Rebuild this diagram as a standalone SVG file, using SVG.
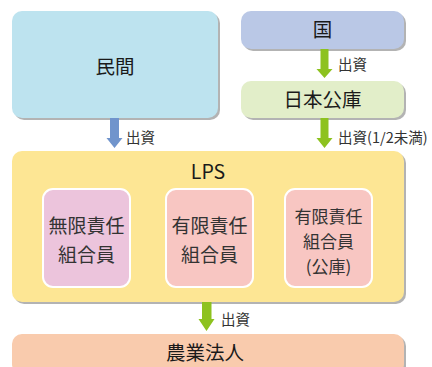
<svg xmlns="http://www.w3.org/2000/svg" width="432" height="367" viewBox="0 0 432 367">
<style>
.sh{fill:#9a9a9a;opacity:0.75}
.t{font-family:"Noto Sans CJK JP","Noto Sans",sans-serif;fill:#1a1a1a;text-anchor:middle}
.big{font-size:19.5px}
.in{font-size:19px;fill:#333}
.in3{font-size:17px;fill:#333}
.lb{font-family:"Noto Sans CJK JP","Noto Sans",sans-serif;font-size:14.5px;fill:#333}
.inner{stroke:#ffffff;stroke-width:2}
</style>
<rect width="432" height="367" fill="#ffffff"/>
<g id="minkan">
<rect class="sh" x="14" y="13" width="206" height="107" rx="10"/>
<rect x="12" y="11" width="206" height="107" rx="10" fill="#bde3ef"/>
<text class="t big" x="115" y="74">民間</text>
</g>
<g id="kuni">
<rect class="sh" x="243" y="13" width="163" height="38" rx="10"/>
<rect x="241" y="11" width="163" height="38" rx="10" fill="#bac8e6"/>
<text class="t big" x="322.5" y="37">国</text>
</g>
<g id="koko">
<rect class="sh" x="243" y="83" width="163" height="37" rx="10"/>
<rect x="241" y="81" width="163" height="37" rx="10" fill="#e2eec9"/>
<text class="t big" x="322.5" y="107">日本公庫</text>
</g>
<g id="lps">
<rect class="sh" x="14" y="153" width="392" height="151" rx="10"/>
<rect x="12" y="151" width="392" height="151" rx="10" fill="#fde694"/>
<text class="t big" x="208" y="179">LPS</text>
</g>
<g id="mugen">
<rect class="inner" x="43" y="189" width="87" height="98" rx="10" fill="#ecc4dc"/>
<text class="t in" x="86.5" y="233">無限責任</text>
<text class="t in" x="86.5" y="262">組合員</text>
</g>
<g id="yugen">
<rect class="inner" x="166" y="189" width="87" height="98" rx="10" fill="#f8c6c2"/>
<text class="t in" x="209.5" y="233">有限責任</text>
<text class="t in" x="209.5" y="262">組合員</text>
</g>
<g id="yugen-koko">
<rect class="inner" x="285" y="189" width="87" height="98" rx="10" fill="#f8c6c2"/>
<text class="t in3" x="328.5" y="223">有限責任</text>
<text class="t in3" x="328.5" y="248">組合員</text>
<text class="t in3" x="328.5" y="273">(公庫)</text>
</g>
<g id="nogyo">
<rect class="sh" x="14" y="336" width="392" height="40" rx="10"/>
<rect x="12" y="334" width="392" height="40" rx="10" fill="#f9cbad"/>
<text class="t big" x="205" y="360">農業法人</text>
</g>
<g id="connectors">
<polygon points="320.5,49 328.5,49 328.5,69 332.5,69 324.5,78 316.5,69 320.5,69" fill="#8dc21f"/>
<text class="lb" x="338" y="70">出資</text>
<polygon points="320.5,118 328.5,118 328.5,138 332.5,138 324.5,148 316.5,138 320.5,138" fill="#8dc21f"/>
<text class="lb" x="338" y="143">出資(1/2未満)</text>
<polygon points="110,118 119,118 119,138 122.5,138 114.5,148 106.5,138 110,138" fill="#7094cc"/>
<text class="lb" x="126" y="143">出資</text>
<polygon points="202,302 211.5,302 211.5,319 214.5,319 206.5,331 198.5,319 202,319" fill="#8dc21f"/>
<text class="lb" x="221" y="325">出資</text>
</g>
</svg>
